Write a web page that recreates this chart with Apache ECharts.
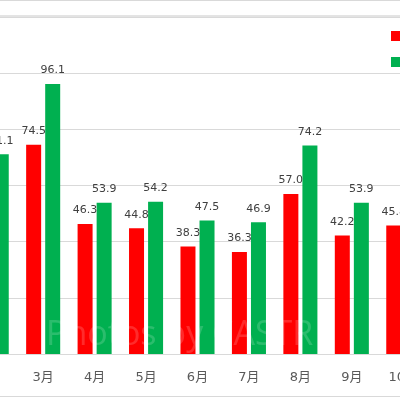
<!DOCTYPE html>
<html>
<head>
<meta charset="utf-8">
<script src="https://cdn.jsdelivr.net/npm/echarts@6/dist/echarts.min.js"></script>
<style>
html,body{margin:0;padding:0;background:#fff;overflow:hidden;width:400px;height:400px;position:relative;}
#c{position:absolute;left:-34px;top:0;width:463px;height:400px;}
</style>
</head>
<body>
<div id="c"></div>
<script>
var categories = ['2月','3月','4月','5月','6月','7月','8月','9月','10月'];
var seriesRedName = '系列1';
var seriesGreenName = '系列2';
var redValues = [null, 74.5, 46.3, 44.8, 38.3, 36.3, 57.0, 42.2, 45.8];
var greenValues = [71.1, 96.1, 53.9, 54.2, 47.5, 46.9, 74.2, 53.9, null];
var yMin = 0, yMax = 120, yStep = 20;

var OX = 34; // container offset (page x = chart x - OX)
var chart = echarts.init(document.getElementById('c'));
var labelCfg = {
  show: true,
  position: 'top',
  distance: 8,
  color: '#404040',
  fontSize: 11,
  fontFamily: 'DejaVu Sans',
  formatter: function (p) { return p.value == null ? '' : Number(p.value).toFixed(1); }
};
chart.setOption({
  animation: false,
  backgroundColor: '#ffffff',
  grid: { left: 0, right: 0, top: 17, bottom: 46, containLabel: false },
  legend: {
    orient: 'vertical',
    left: 391 + OX,
    top: 30,
    padding: 0,
    itemWidth: 10,
    itemHeight: 10,
    itemGap: 14,
    icon: 'rect',
    textStyle: { fontSize: 12, lineHeight: 10, color: '#595959' },
    data: [seriesRedName, seriesGreenName]
  },
  xAxis: {
    type: 'category',
    data: categories,
    axisLine: { show: true, lineStyle: { color: '#d9d9d9' } },
    axisTick: { show: false },
    axisLabel: {
      color: '#595959',
      fontSize: 13,
      margin: 17,
      fontFamily: 'DejaVu Sans, Noto Sans CJK JP'
    }
  },
  yAxis: {
    type: 'value',
    min: yMin, max: yMax, interval: yStep,
    axisLine: { show: false },
    axisTick: { show: false },
    axisLabel: { show: false },
    splitLine: { lineStyle: { color: '#d9d9d9' } }
  },
  graphic: [
    { type: 'line', shape: { x1: 0, y1: 0.5, x2: 463, y2: 0.5 }, style: { stroke: '#d9d9d9', lineWidth: 1 }, z: 10 },
    { type: 'line', shape: { x1: 0, y1: 16, x2: 463, y2: 16 }, style: { stroke: '#c8c8c8', lineWidth: 1 }, z: 10 },
    { type: 'line', shape: { x1: 0, y1: 396.5, x2: 463, y2: 396.5 }, style: { stroke: '#d9d9d9', lineWidth: 1 }, z: 10 },
    { type: 'text', left: 46 + OX, top: 318, z: 100,
      style: { text: 'Photos by CASTR', font: '34px "Open Sans"', fill: 'rgba(255,255,255,0.17)' } }
  ],
  series: [
    {
      name: seriesRedName,
      type: 'bar',
      data: redValues,
      barWidth: 15,
      barGap: '27%',
      itemStyle: { color: '#ff0000' },
      label: labelCfg
    },
    {
      name: seriesGreenName,
      type: 'bar',
      data: greenValues,
      barWidth: 15,
      barGap: '27%',
      itemStyle: { color: '#00b050' },
      label: labelCfg
    }
  ]
});
</script>
</body>
</html>
